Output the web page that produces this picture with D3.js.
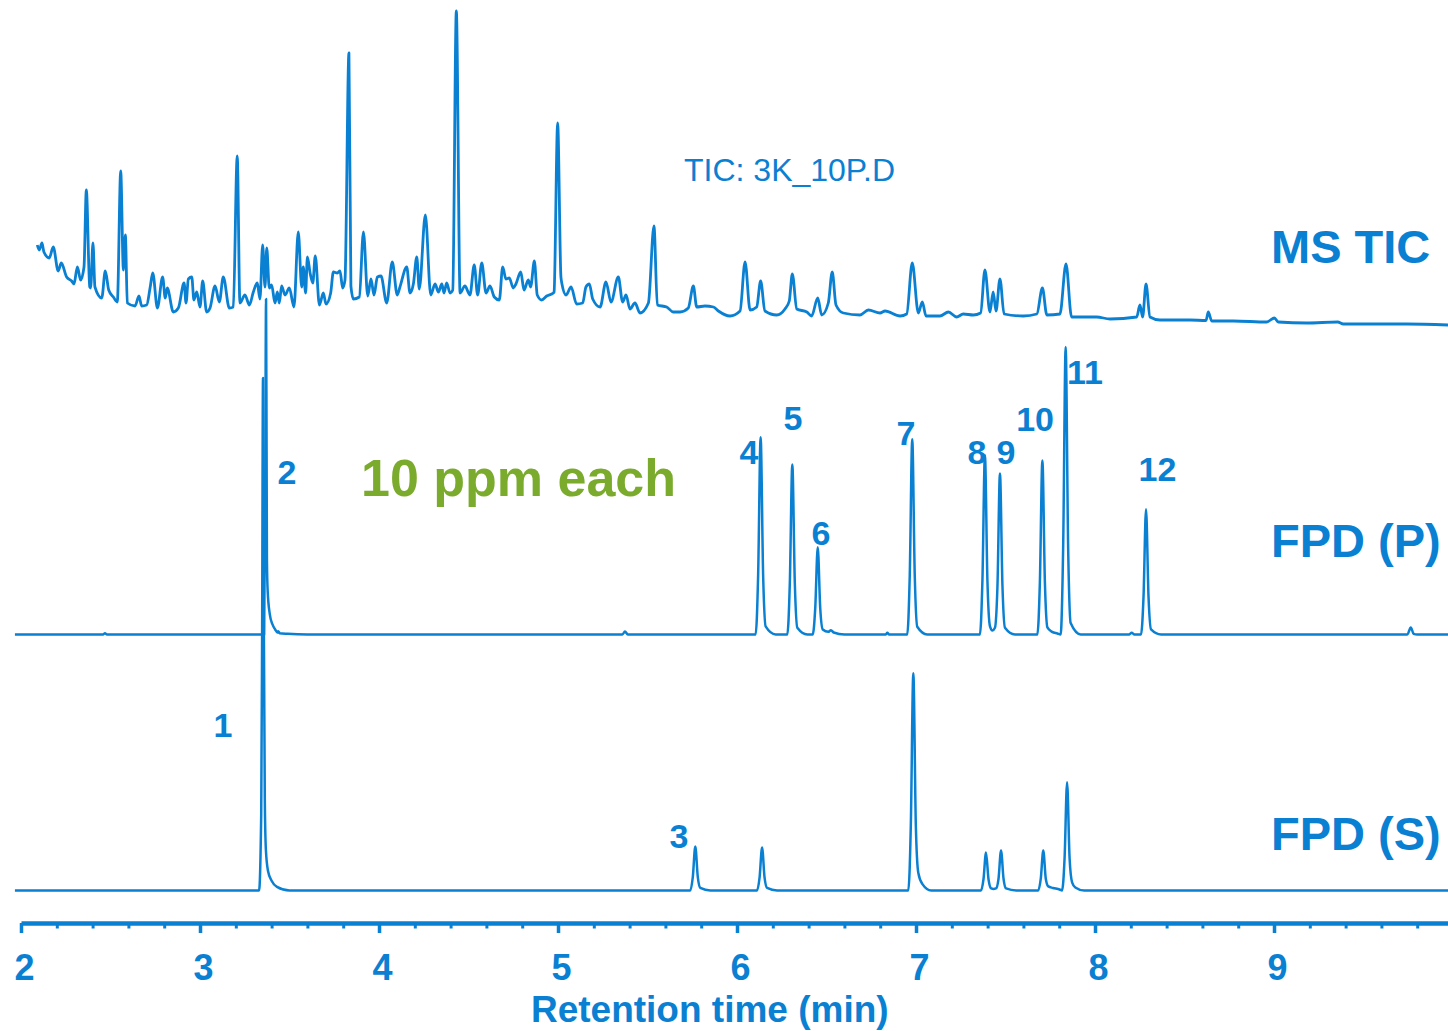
<!DOCTYPE html>
<html>
<head>
<meta charset="utf-8">
<script src="https://d3js.org/d3.v7.min.js"></script>
<style>
  body { margin: 0; background: #fff; }
  text { font-family: "Liberation Sans", Arial, sans-serif; }
</style>
</head>
<body>
<div id="my_dataviz"></div>
<script>
// retention time (min), signal
const ticTrace = [
  [2.091,81],[2.102,76],[2.117,83],[2.128,74],[2.158,68],[2.18,79],[2.208,55],[2.225,63],[2.255,49],[2.283,45],
  [2.296,42],[2.315,59],[2.333,46],[2.352,59],[2.365,136],[2.384,39],[2.389,38],[2.402,83],[2.413,39],[2.451,28],
  [2.471,55],[2.49,36],[2.516,29],[2.538,24],[2.557,155],[2.572,56],[2.583,91],[2.594,23],[2.637,20],[2.659,30],
  [2.674,20],[2.702,21],[2.721,38],[2.736,53],[2.762,18],[2.791,49],[2.806,28],[2.817,38],[2.851,14],[2.879,18],
  [2.911,43],[2.922,23],[2.935,47],[2.954,49],[2.966,26],[2.982,34],[3.0,19],[3.015,45],[3.037,14],[3.056,18],
  [3.084,40],[3.108,24],[3.13,49],[3.164,18],[3.186,19],[3.208,170],[3.223,23],[3.251,31],[3.276,21],[3.298,34],
  [3.32,43],[3.335,27],[3.35,81],[3.363,39],[3.373,78],[3.387,38],[3.4,41],[3.419,23],[3.432,34],[3.443,23],
  [3.456,40],[3.475,31],[3.499,38],[3.525,19],[3.549,94],[3.568,39],[3.577,59],[3.59,33],[3.6,69],[3.615,53],
  [3.63,43],[3.644,70],[3.667,21],[3.689,33],[3.704,22],[3.73,33],[3.745,54],[3.767,53],[3.782,55],[3.797,38],
  [3.81,46],[3.832,273],[3.843,40],[3.857,27],[3.89,29],[3.913,94],[3.937,30],[3.955,47],[3.972,31],[3.991,49],
  [4.011,50],[4.043,23],[4.074,64],[4.102,31],[4.117,39],[4.155,59],[4.173,33],[4.192,42],[4.211,69],[4.225,37],
  [4.259,111],[4.289,31],[4.313,42],[4.332,34],[4.351,42],[4.363,33],[4.378,43],[4.397,33],[4.412,36],[4.432,315],
  [4.453,33],[4.48,40],[4.508,31],[4.532,61],[4.551,31],[4.574,63],[4.598,33],[4.62,40],[4.644,29],[4.672,26],
  [4.691,59],[4.709,47],[4.728,48],[4.75,38],[4.765,42],[4.792,54],[4.81,36],[4.834,46],[4.847,39],[4.868,65],
  [4.884,31],[4.909,26],[4.937,30],[4.974,33],[4.978,34],[4.998,203],[5.016,50],[5.021,43],[5.045,31],[5.073,39],
  [5.104,22],[5.138,23],[5.156,39],[5.175,42],[5.194,27],[5.235,19],[5.268,44],[5.296,24],[5.337,49],[5.361,24],
  [5.38,31],[5.402,17],[5.43,23],[5.458,13],[5.505,23],[5.536,100],[5.555,21],[5.607,19],[5.644,14],[5.682,14],
  [5.728,18],[5.756,40],[5.775,19],[5.821,20],[5.868,19],[5.896,15],[5.961,10],[6.017,15],[6.045,64],[6.073,16],
  [6.11,19],[6.132,45],[6.156,15],[6.222,11],[6.268,17],[6.292,25],[6.309,52],[6.334,17],[6.39,14],[6.417,10],
  [6.451,28],[6.473,11],[6.51,23],[6.532,54],[6.553,21],[6.594,13],[6.687,11],[6.734,16],[6.799,13],[6.827,15],
  [6.911,10],[6.948,12],[6.979,63],[7.013,13],[7.035,24],[7.056,10],[7.134,10],[7.181,14],[7.227,9],[7.264,12],
  [7.32,11],[7.361,13],[7.385,56],[7.413,14],[7.431,34],[7.447,15],[7.469,47],[7.492,12],[7.6,10],[7.675,12],
  [7.706,38],[7.731,11],[7.804,12],[7.838,62],[7.869,9],[8.009,9],[8.084,7],[8.233,9],[8.251,21],[8.266,9],
  [8.285,42],[8.307,9],[8.363,6],[8.531,6],[8.62,5.5],[8.633,14],[8.652,5],[8.773,5],[8.959,4],[9.002,8],
  [9.024,4],[9.183,3],[9.356,4],[9.387,2],[9.741,2],[9.972,1]
];

const fpdPTrace = [
  [1.966,0],[2.46,0],[2.469,0.4],[2.48,0],[3.358,0],[3.364,40],[3.369,100],[3.372,55],[3.374,22],[3.378,13],
  [3.39,6],[3.405,3],[3.42,1.5],[3.432,0.6],[3.437,1],[3.445,0.4],[3.49,0.2],[3.6,0],[5.36,0],[5.374,0.9],
  [5.39,0],[6.104,0],[6.118,17.6],[6.132,58.8],[6.146,17.6],[6.16,2.4],[6.216,0],[6.281,0],[6.295,15.2],[6.309,50.7],
  [6.323,15.2],[6.337,2],[6.393,0],[6.423,0],[6.437,7.8],[6.451,26],[6.465,7.8],[6.479,1.5],[6.51,0.8],[6.525,1.3],
  [6.54,0.6],[6.6,0],[6.83,0],[6.84,0.5],[6.85,0],[6.951,0],[6.965,17.5],[6.979,58.2],[6.993,17.5],[7.007,2.3],
  [7.063,0],[7.357,0],[7.371,16],[7.385,53.4],[7.399,16],[7.413,2.5],[7.427,1.2],[7.441,2],[7.455,14.4],[7.469,48],
  [7.483,14.4],[7.497,2],[7.553,0],[7.678,0],[7.692,15.6],[7.706,51.9],[7.72,15.6],[7.734,2.1],[7.76,0.8],[7.79,0.3],
  [7.808,0],[7.822,25.7],[7.836,85.7],[7.85,25.7],[7.864,3.4],[7.92,0],[8.19,0],[8.205,0.5],[8.22,0],[8.257,0],
  [8.271,11.2],[8.285,37.3],[8.299,11.2],[8.313,1.5],[8.369,0],[9.745,0],[9.764,2.1],[9.78,0.2],[9.8,0],[9.972,0]
];

const fpdSTrace = [
  [1.966,0],[3.33,0],[3.342,15],[3.347,50],[3.352,100],[3.357,50],[3.362,18],[3.368,8],[3.38,3.8],[3.4,1.9],
  [3.43,0.7],[3.5,0],[5.739,0],[5.753,2.6],[5.767,8.6],[5.781,2.6],[5.795,0.5],[5.851,0],[6.112,0],[6.126,2.5],
  [6.14,8.4],[6.154,2.5],[6.168,0.5],[6.224,0],[6.957,0],[6.971,12.7],[6.985,42.4],[6.999,12.7],[7.013,3.4],[7.035,1.3],
  [7.085,0],[7.363,0],[7.377,2.2],[7.391,7.4],[7.405,2.2],[7.42,0.4],[7.433,0.3],[7.447,0.4],[7.461,2.3],[7.475,7.8],
  [7.489,2.3],[7.503,0.4],[7.56,0],[7.683,0],[7.697,2.3],[7.711,7.8],[7.725,2.3],[7.739,0.8],[7.765,0.5],[7.802,0.2],
  [7.816,0],[7.83,6.3],[7.844,21.1],[7.858,6.3],[7.872,1.6],[7.89,0.6],[7.94,0],[9.972,0]
];

// peak numbers: label, retention time, trace, signal
const peakLabels = ["1", "2", "3", "4", "5", "6", "7", "8", "9", "10", "11", "12"];
const labelTimes = [3.128, 3.486, 5.676, 6.067, 6.313, 6.469, 6.944, 7.341, 7.503, 7.665, 7.944, 8.349];
const labelTraces = ["S", "P", "S", "P", "P", "P", "P", "P", "P", "P", "P", "P"];
const labelSignals = [30, 44.9, 8.3, 50.8, 61.0, 26.7, 56.5, 50.8, 50.8, 60.7, 74.6, 45.9];

const majorTicks = [2, 3, 4, 5, 6, 7, 8, 9];
const minorTicks = [2.2, 2.4, 2.6, 2.8, 3.2, 3.4, 3.6, 3.8, 4.2, 4.4, 4.6, 4.8, 5.2, 5.4, 5.6, 5.8,
  6.2, 6.4, 6.6, 6.8, 7.2, 7.4, 7.6, 7.8, 8.2, 8.4, 8.6, 8.8, 9.2, 9.4, 9.6, 9.8];

const blue = "#0a80d2";
const green = "#7aab2c";

var margin = { top: 0, right: 0, bottom: 108, left: 21 },
    width = 1448 - margin.left - margin.right,
    height = 1031 - margin.top - margin.bottom;

let svg = d3.select("#my_dataviz").append("svg")
    .attr("width", width + margin.left + margin.right)
    .attr("height", height + margin.top + margin.bottom)
    .style("display", "block")
    .append("g")
    .attr("transform", "translate(" + margin.left + "," + margin.top + ")");

let x = d3.scaleLinear().domain([2, 9.972]).range([0, width]);

// each trace sits on its own offset baseline
let yTic = d3.scaleLinear().domain([0, 320]).range([326, 6]);
let yP = d3.scaleLinear().domain([0, 100]).range([634.5, 299]);
let yS = d3.scaleLinear().domain([0, 100]).range([890.5, 378]);

function drawTrace(data, y, w) {
    svg.append("path")
        .datum(data)
        .attr("fill", "none")
        .attr("stroke", blue)
        .attr("stroke-width", w)
        .attr("stroke-linejoin", "round")
        .attr("d", d3.line().curve(d3.curveMonotoneX).x(d => x(d[0])).y(d => y(d[1])));
}

drawTrace(fpdSTrace, yS, 2.5);
drawTrace(fpdPTrace, yP, 2.5);
drawTrace(ticTrace, yTic, 2.8);

// x axis
var xAxis = svg.append("g")
    .attr("transform", "translate(0," + height + ")")
    .call(d3.axisBottom(x).tickValues(majorTicks).tickSize(10).tickSizeOuter(0).tickFormat(d3.format("d")));

xAxis.select(".domain").attr("stroke", blue).attr("stroke-width", 4.5);
xAxis.selectAll(".tick line").attr("stroke", blue).attr("stroke-width", 3.5);
xAxis.selectAll(".tick text")
    .attr("fill", blue)
    .attr("y", 57)
    .attr("dy", null)
    .attr("dx", 3)
    .style("font-size", "36px")
    .style("font-weight", "bold");

var minorAxis = svg.append("g")
    .attr("transform", "translate(0," + height + ")")
    .call(d3.axisBottom(x).tickValues(minorTicks).tickSize(5.5).tickSizeOuter(0).tickFormat(""));
minorAxis.select(".domain").remove();
minorAxis.selectAll(".tick line").attr("stroke", blue).attr("stroke-width", 3);

svg.append("text")
    .attr("x", x(5.848))
    .attr("y", 1022)
    .attr("text-anchor", "middle")
    .attr("fill", blue)
    .style("font-size", "37px")
    .style("font-weight", "bold")
    .text("Retention time (min)");

// peak numbers
svg.append("g").selectAll("text")
    .data(peakLabels)
    .enter()
    .append("text")
    .attr("x", (d, i) => x(labelTimes[i]))
    .attr("y", (d, i) => (labelTraces[i] === "S" ? yS : yP)(labelSignals[i]))
    .attr("text-anchor", "middle")
    .attr("fill", blue)
    .style("font-size", "34px")
    .style("font-weight", "bold")
    .text(d => d);

// trace names
const traceNames = ["MS TIC", "FPD (P)", "FPD (S)"];
const traceNameY = [263, 557, 850];
svg.append("g").selectAll("text")
    .data(traceNames)
    .enter()
    .append("text")
    .attr("x", 1271 - margin.left)
    .attr("y", (d, i) => traceNameY[i])
    .attr("fill", blue)
    .style("font-size", "47px")
    .style("font-weight", "bold")
    .text(d => d);

svg.append("text")
    .attr("x", 684 - margin.left)
    .attr("y", 181)
    .attr("fill", blue)
    .style("font-size", "32px")
    .text("TIC: 3K_10P.D");

svg.append("text")
    .attr("x", 361 - margin.left)
    .attr("y", 496)
    .attr("fill", green)
    .style("font-size", "52px")
    .style("font-weight", "bold")
    .text("10 ppm each");
</script>
</body>
</html>
